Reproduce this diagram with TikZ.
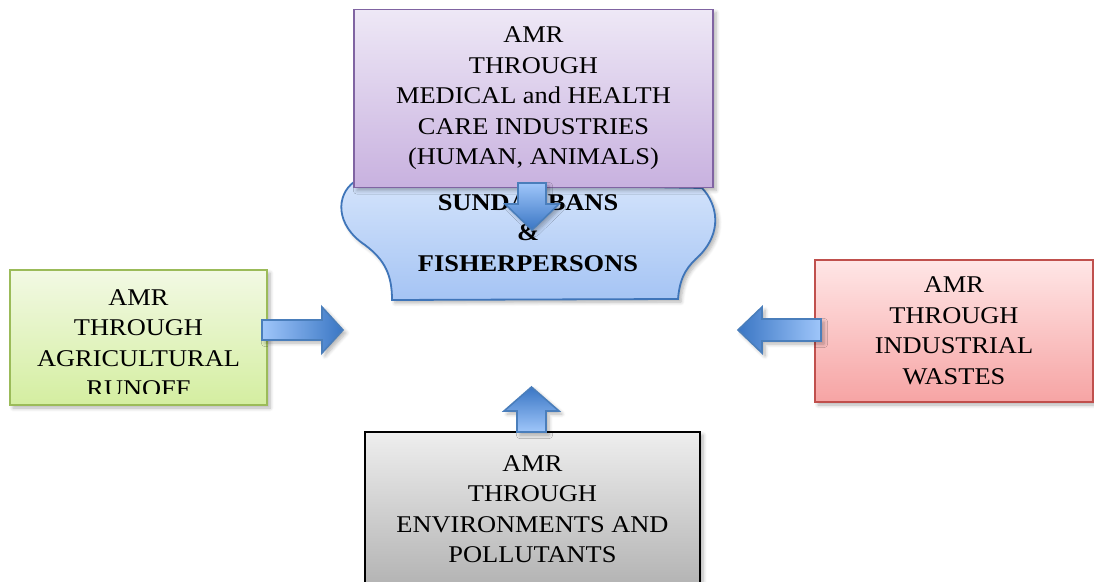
\documentclass[tikz,border=0pt]{standalone}
\usepackage{fontspec}
\setmainfont{Liberation Serif}[FakeStretch=1.1]
\usetikzlibrary{shadows.blur}
\definecolor{purpleline}{HTML}{8064A2}
\definecolor{purpletop}{HTML}{EEE8F6}
\definecolor{purplebot}{HTML}{C8B1DF}
\definecolor{waveline}{HTML}{3F75B9}
\definecolor{wavetop}{HTML}{D3E3FB}
\definecolor{wavebot}{HTML}{A5C4F4}
\definecolor{greenline}{HTML}{9BBB59}
\definecolor{greentop}{HTML}{F2F9E4}
\definecolor{greenbot}{HTML}{D4EEA0}
\definecolor{redline}{HTML}{C0504D}
\definecolor{redtop}{HTML}{FFE6E6}
\definecolor{redbot}{HTML}{F6A4A4}
\definecolor{graytop}{HTML}{EEEEEE}
\definecolor{graybot}{HTML}{B3B3B3}
\definecolor{arrlight}{HTML}{9FC6FA}
\definecolor{arrdark}{HTML}{3A76C4}
\definecolor{arrline}{HTML}{4A7EBB}

\begin{document}
\begin{tikzpicture}[x=0.5pt, y=-0.5pt,
	softshadow/.style={blur shadow={shadow xshift=1.5pt, shadow yshift=-1.5pt, shadow blur steps=6, shadow opacity=30}},
	boxtext/.style={align=center, inner sep=0pt, font=\fontsize{12}{15.25}\selectfont},
	box/.style={boxtext, softshadow, draw, line width=0.9pt},
	blockarrow/.style={softshadow, draw=arrline, line width=0.8pt, line join=miter}]
	\useasboundingbox (0,0) rectangle (1094,582);
	
	% sundarbans wave
	\shadedraw [softshadow, draw=waveline, line width=0.9pt, top color=wavetop, bottom color=wavebot]
		(354,182) .. controls (336,195) and (335,225) .. (365,245)
		.. controls (385,260) and (392,275) .. (392,300) -- (678,299)
		.. controls (680,275) and (688,266) .. (700,255)
		.. controls (722,232) and (718,205) .. (702,188) -- cycle;
	
	\node [box, draw=purpleline, top color=purpletop, bottom color=purplebot, minimum width=179.5pt, minimum height=89pt] (medical) at (533.5,98.5) {AMR\\THROUGH\\MEDICAL and HEALTH\\CARE INDUSTRIES\\(HUMAN, ANIMALS)};
	\node [boxtext, font=\fontsize{12}{15.25}\selectfont\bfseries] (sundarbans) at (528,233) {SUNDARBANS\\\&\\FISHERPERSONS};
	
	\node [box, draw=greenline, top color=greentop, bottom color=greenbot, minimum width=128.5pt, minimum height=67.5pt] (agri) at (138.5,337.5) {};
	\begin{scope}
		\clip (agri.north west) rectangle ([yshift=6pt]agri.south east);
		\node [boxtext] (agritext) at (138.5,343) {AMR\\THROUGH\\AGRICULTURAL\\RUNOFF};
	\end{scope}
	
	\node [box, draw=redline, top color=redtop, bottom color=redbot, minimum width=139pt, minimum height=71pt] (industrial) at (954,331) {AMR\\THROUGH\\INDUSTRIAL\\WASTES};
	
	\node [box, draw=black, top color=graytop, bottom color=graybot, minimum width=167.5pt, minimum height=77pt] (environment) at (532.5,509) {AMR\\THROUGH\\ENVIRONMENTS AND\\POLLUTANTS};
	
	% block arrows
	\shadedraw [blockarrow, top color=arrlight, bottom color=arrdark] (518,183) -- (546,183) -- (546,204) -- (559,204) -- (532,230) -- (505,204) -- (518,204) -- cycle;
	\shadedraw [blockarrow, left color=arrlight, right color=arrdark] (262,320) -- (322,320) -- (322,307) -- (343,330) -- (322,353) -- (322,340) -- (262,340) -- cycle;
	\shadedraw [blockarrow, left color=arrdark, right color=arrlight] (821,319) -- (762,319) -- (762,307) -- (738,330) -- (762,353) -- (762,341) -- (821,341) -- cycle;
	\shadedraw [blockarrow, top color=arrdark, bottom color=arrlight] (517,432) -- (517,411) -- (504,411) -- (531.5,387) -- (559,411) -- (546,411) -- (546,432) -- cycle;
\end{tikzpicture}
\end{document}
